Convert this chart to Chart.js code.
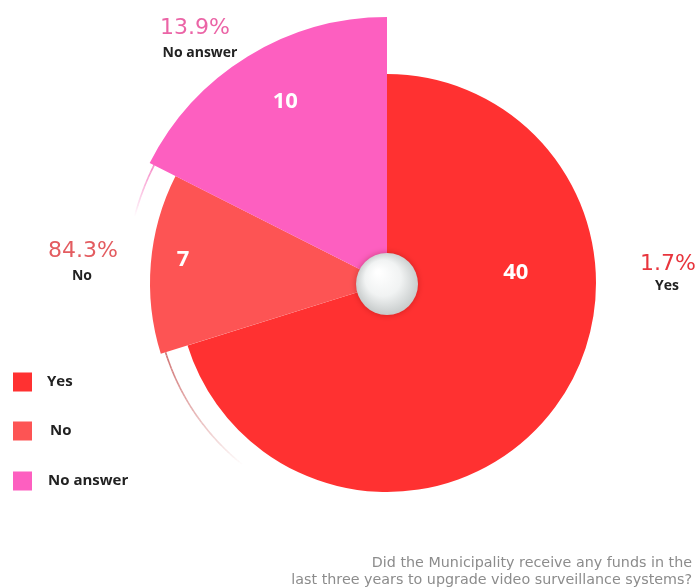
<!DOCTYPE html>
<html>
<head>
<meta charset="utf-8">
<script src="https://cdn.jsdelivr.net/npm/chart.js@4/dist/chart.umd.min.js"></script>
<style>
  html, body { margin: 0; padding: 0; background: #ffffff; }
  #wrap { position: relative; width: 696px; height: 587px; }
</style>
</head>
<body>
<div id="wrap"><canvas id="chart" width="696" height="587"></canvas></div>
<script>
// Answers and their counts
const categories = ['Yes', 'No', 'No answer'];
const counts = [40, 7, 10];
// Percent captions printed beside each slice
const percentLabels = ['1.7%', '84.3%', '13.9%'];
const question = [
  'Did the Municipality receive any funds in the',
  'last three years to upgrade video surveillance systems?'
];

// Styling
const sliceColors = ['#ff3131', '#fd5454', '#fd5fc0'];
const percentColors = ['#e8353d', '#e35c60', '#eb64a6'];
const sliceRadii = [209, 237, 266];           // outer radius of each slice, px
const valueSpots = [[0.339, 0.618], [0.54, 0.866], [0.535, 0.78]]; // [angle fraction, radius fraction]
const captionSpots = [[668, 264, 286, 667], [83, 251, 276, 82], [195, 28, 53, 200]]; // [pct x, pct y, name y, name x]
const trailSpan = [0, 34, 12];                // degrees a faint edge trails past a slice start

const BOLD = '"Open Sans", sans-serif';

const piePainter = {
  id: 'piePainter',
  afterDatasetsUpdate(chart) {
    const meta = chart.getDatasetMeta(0);
    meta.data.forEach((arc, i) => { arc.outerRadius = sliceRadii[i]; });
  },
  beforeDatasetsDraw(chart) {
    const ctx = chart.ctx;
    const meta = chart.getDatasetMeta(0);
    meta.data.forEach((arc, i) => {
      const span = trailSpan[i] * Math.PI / 180;
      if (!span) return;
      const r = arc.outerRadius - 5;
      const steps = 40;
      ctx.save();
      ctx.lineWidth = 1.6;
      for (let s = 0; s < steps; s++) {
        const a0 = arc.startAngle - span * s / steps;
        const a1 = arc.startAngle - span * (s + 1) / steps;
        ctx.globalAlpha = 0.85 * (1 - s / steps);
        ctx.strokeStyle = i === 1 ? '#c85a5a' : '#f46ab8';
        ctx.beginPath();
        ctx.arc(arc.x, arc.y, r, a1, a0);
        ctx.stroke();
      }
      ctx.restore();
    });
  },
  afterDatasetsDraw(chart) {
    const ctx = chart.ctx;
    const meta = chart.getDatasetMeta(0);
    const cx = meta.data[0].x, cy = meta.data[0].y;

    // values inside the slices
    ctx.save();
    ctx.fillStyle = '#ffffff';
    ctx.font = `700 22px ${BOLD}`;
    ctx.textAlign = 'center';
    ctx.textBaseline = 'middle';
    meta.data.forEach((arc, i) => {
      const [fa, fr] = valueSpots[i];
      const a = arc.startAngle + (arc.endAngle - arc.startAngle) * fa;
      const r = arc.outerRadius * fr;
      ctx.fillText(String(chart.data.datasets[0].data[i]), arc.x + Math.cos(a) * r, arc.y + Math.sin(a) * r);
    });
    ctx.restore();

    // centre knob
    ctx.save();
    ctx.shadowColor = 'rgba(120,0,0,0.35)';
    ctx.shadowBlur = 6;
    const g = ctx.createRadialGradient(cx - 9, cy - 11, 2, cx, cy, 31);
    g.addColorStop(0, '#ffffff');
    g.addColorStop(0.55, '#f1f3f3');
    g.addColorStop(1, '#c9cdcd');
    ctx.fillStyle = g;
    ctx.beginPath();
    ctx.arc(cx, cy + 1, 31, 0, Math.PI * 2);
    ctx.fill();
    ctx.restore();
  },
  afterDraw(chart) {
    const ctx = chart.ctx;
    ctx.save();
    ctx.textAlign = 'center';
    ctx.textBaseline = 'middle';
    // percent captions
    categories.forEach((name, i) => {
      const [px, py, ny, nx] = captionSpots[i];
      ctx.fillStyle = percentColors[i];
      ctx.font = `400 22px "DejaVu Sans", sans-serif`;
      ctx.fillText(percentLabels[i], px, py);
      ctx.fillStyle = '#222222';
      ctx.font = `700 14px ${BOLD}`;
      ctx.fillText(name, nx, ny);
    });

    // legend
    ctx.textAlign = 'left';
    const legendY = [382, 431, 481];
    const legendX = [47, 50, 48];
    categories.forEach((name, i) => {
      ctx.fillStyle = sliceColors[i];
      ctx.fillRect(13, legendY[i] - 9.5, 19, 19);
      ctx.fillStyle = '#222222';
      ctx.font = `700 15px ${BOLD}`;
      ctx.fillText(name, legendX[i], legendY[i]);
    });

    // question
    ctx.textAlign = 'right';
    ctx.textBaseline = 'alphabetic';
    ctx.fillStyle = '#8c8c8c';
    ctx.font = `400 14.3px "DejaVu Sans", sans-serif`;
    ctx.fillText(question[0], 692, 567);
    ctx.fillText(question[1], 692, 584);
    ctx.restore();
  }
};

new Chart(document.getElementById('chart'), {
  type: 'pie',
  data: {
    labels: categories,
    datasets: [{
      data: counts,
      backgroundColor: sliceColors,
      borderWidth: 0
    }]
  },
  options: {
    responsive: false,
    animation: false,
    layout: { padding: { left: 78, right: 0, top: 0, bottom: 21 } },
    plugins: {
      legend: { display: false },
      tooltip: { enabled: false }
    }
  },
  plugins: [piePainter]
});
</script>
</body>
</html>
